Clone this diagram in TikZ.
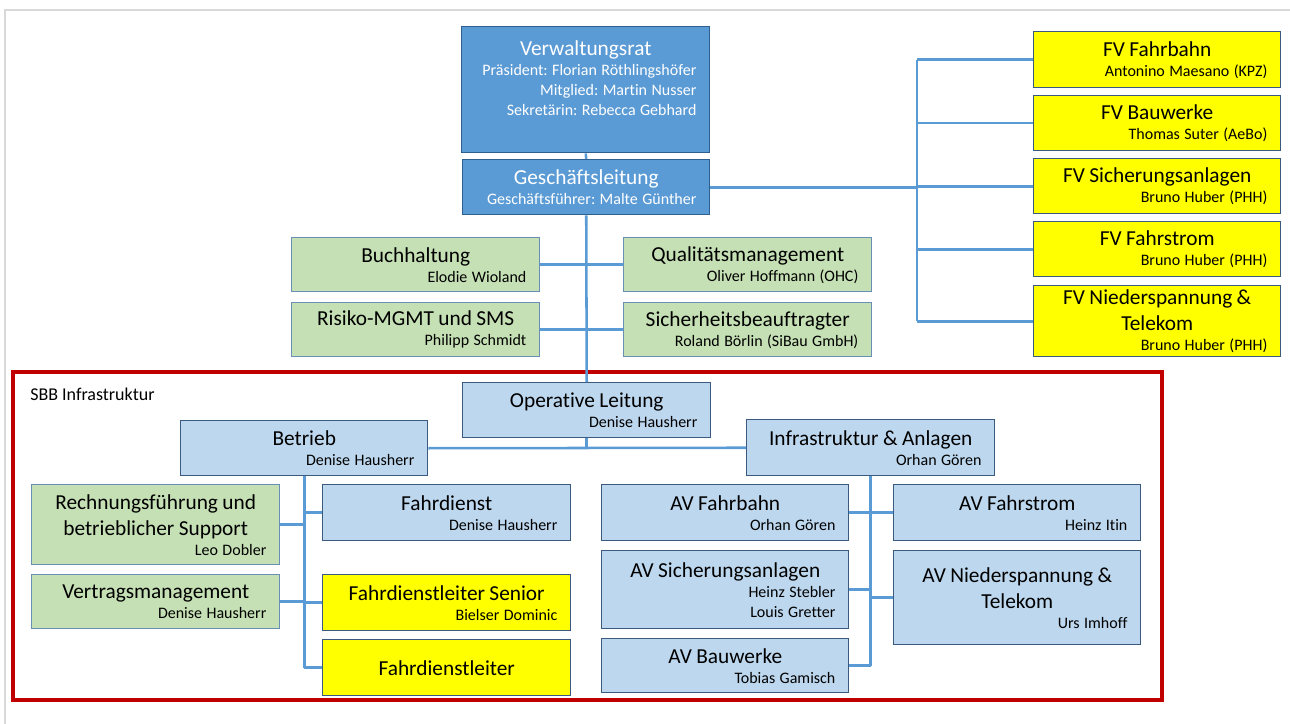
\documentclass[tikz,border=0pt]{standalone}
\usepackage{fontspec}
\setmainfont{Carlito}[Ligatures=NoCommon]
\usetikzlibrary{calc}
\frenchspacing
\definecolor{boardblue}{HTML}{5B9BD5}
\definecolor{boardedge}{HTML}{2E5F8F}
\definecolor{opblue}{HTML}{BDD7EE}
\definecolor{opedge}{HTML}{3B5A7F}
\definecolor{staffgreen}{HTML}{C5E0B4}
\definecolor{staffedge}{HTML}{6A8FB5}
\definecolor{expertyellow}{HTML}{FFFF00}
\definecolor{linkblue}{HTML}{5B9BD5}
\definecolor{sbbred}{HTML}{C00000}
\definecolor{pagegray}{HTML}{D9D9D9}
\newcommand{\orgunit}[7]{
\pgfmathsetlengthmacro{\unitw}{#5*0.75pt-20pt}
\node[#1, text width=\unitw, minimum height=#6*0.75pt, anchor=north west] (#2) at (#3,#4) {#7};
}
\newcommand{\unittitle}[1]{{\centering\fontsize{16}{19.5}\selectfont #1\par}}
\newcommand{\unitnames}[1]{{\raggedleft\fontsize{12}{15}\selectfont #1\par}}

\begin{document}
\begin{tikzpicture}[x=0.75pt, y=-0.75pt,
% boxes
unit/.style={rectangle, draw, line width=1.1pt, inner xsep=10pt, inner ysep=1pt},
board/.style={unit, fill=boardblue, draw=boardedge, text=white},
op/.style={unit, fill=opblue, draw=opedge},
staff/.style={unit, fill=staffgreen, draw=staffedge},
expert/.style={unit, fill=expertyellow, draw=opedge},
% connectors
link/.style={draw=linkblue, line width=1.9pt},
% frames
pageframe/.style={draw=pagegray, line width=1.2pt},
sbbframe/.style={draw=sbbred, line width=2.6pt}
]

\useasboundingbox (0,0) rectangle (1290,724);
\draw[pageframe] (5,724) |- (1290,10);

% top management
\orgunit{board}{vr}{461}{26}{248}{126}{\unittitle{Verwaltungsrat}\unitnames{Präsident: Florian Röthlingshöfer\\Mitglied: Martin Nusser\\Sekretärin: Rebecca Gebhard}\vspace*{17pt}}
\orgunit{board}{gl}{462}{159}{247}{55}{\unittitle{Geschäftsleitung}\unitnames{Geschäftsführer: Malte Günther}}

% staff units
\orgunit{staff}{buch}{291}{237}{248}{54}{\unittitle{Buchhaltung}\unitnames{Elodie Wioland}}
\orgunit{staff}{qual}{623}{237}{248}{54}{\unittitle{Qualitätsmanagement}\unitnames{Oliver Hoffmann (OHC)}}
\orgunit{staff}{risk}{291}{302}{248}{54}{\unittitle{Risiko-MGMT und SMS}\unitnames{Philipp Schmidt}}
\orgunit{staff}{sich}{623}{302}{248}{54}{\unittitle{Sicherheitsbeauftragter}\unitnames{Roland Börlin (SiBau GmbH)}}

% Fachverantwortliche
\orgunit{expert}{fvfb}{1033}{31}{247}{56}{\unittitle{FV Fahrbahn}\unitnames{Antonino Maesano (KPZ)}}
\orgunit{expert}{fvbw}{1033}{95}{247}{55}{\unittitle{FV Bauwerke}\unitnames{Thomas Suter (AeBo)}}
\orgunit{expert}{fvsa}{1033}{158}{247}{55}{\unittitle{FV Sicherungsanlagen}\unitnames{Bruno Huber (PHH)}}
\orgunit{expert}{fvfs}{1033}{221}{247}{55}{\unittitle{FV Fahrstrom}\unitnames{Bruno Huber (PHH)}}
\orgunit{expert}{fvns}{1033}{285}{247}{71}{\unittitle{FV Niederspannung \&\\Telekom}\unitnames{Bruno Huber (PHH)}}

% SBB Infrastruktur
\draw[sbbframe] (13,372) rectangle (1162,700);
\node[anchor=west, inner sep=0, font=\fontsize{13.5}{16}\selectfont] (sbblabel) at (30,394) {SBB Infrastruktur};

\orgunit{op}{ol}{462}{382}{248}{55}{\unittitle{Operative Leitung}\unitnames{Denise Hausherr}}
\orgunit{op}{betr}{180}{420}{247}{55}{\unittitle{Betrieb}\unitnames{Denise Hausherr}}
\orgunit{op}{infra}{746}{419}{248}{56}{\unittitle{Infrastruktur \& Anlagen}\unitnames{Orhan Gören}}

% Betrieb
\orgunit{staff}{rech}{31}{484}{248}{80}{\unittitle{Rechnungsführung und\\betrieblicher Support}\unitnames{Leo Dobler}}
\orgunit{staff}{vert}{31}{574}{248}{54}{\unittitle{Vertragsmanagement}\unitnames{Denise Hausherr}}
\orgunit{op}{fd}{322}{484}{248}{56}{\unittitle{Fahrdienst}\unitnames{Denise Hausherr}}
\orgunit{expert}{fdls}{322}{574}{248}{56}{\unittitle{Fahrdienstleiter Senior}\unitnames{Bielser Dominic}}
\orgunit{expert}{fdl}{322}{639}{248}{56}{\unittitle{Fahrdienstleiter}}

% Infrastruktur & Anlagen
\orgunit{op}{avfb}{601}{484}{247}{56}{\unittitle{AV Fahrbahn}\unitnames{Orhan Gören}}
\orgunit{op}{avsa}{601}{550}{247}{78}{\unittitle{AV Sicherungsanlagen}\unitnames{Heinz Stebler\\Louis Gretter}}
\orgunit{op}{avbw}{601}{638}{247}{54}{\unittitle{AV Bauwerke}\unitnames{Tobias Gamisch}}
\orgunit{op}{avfs}{893}{484}{247}{56}{\unittitle{AV Fahrstrom}\unitnames{Heinz Itin}}
\orgunit{op}{avns}{893}{550}{247}{94}{\unittitle{AV Niederspannung \&\\Telekom}\unitnames{Urs Imhoff}}

% connectors
\coordinate (fvbus) at (917,0);
\draw[link] (vr.south) -- (gl.north);
\draw[link] (gl.south) -- (ol.north);
\draw[link] (buch.east) -- (qual.west);
\draw[link] (risk.east) -- (sich.west);
\draw[link] (gl.east) -- (gl.east -| fvbus);
\draw[link] (fvbus |- fvfb.west) -- (fvbus |- fvns.west);
\foreach \fv in {fvfb, fvbw, fvsa, fvfs, fvns}
\draw[link] (fvbus |- \fv.west) -- (\fv.west);

\draw[link] (betr.east) -- (infra.west);
\draw[link] (ol.south) -- (ol.south |- betr.east);

\draw[link] (betr.south) -- (betr.south |- fdl.west);
\foreach \u in {rech, vert}
\draw[link] (\u.east) -- (\u.east -| betr.south);
\foreach \u in {fd, fdls, fdl}
\draw[link] (\u.west -| betr.south) -- (\u.west);

\draw[link] (infra.south) -- (infra.south |- avbw.east);
\foreach \u in {avfb, avsa, avbw}
\draw[link] (\u.east) -- (\u.east -| infra.south);
\foreach \u in {avfs, avns}
\draw[link] (\u.west -| infra.south) -- (\u.west);

\end{tikzpicture}
\end{document}
